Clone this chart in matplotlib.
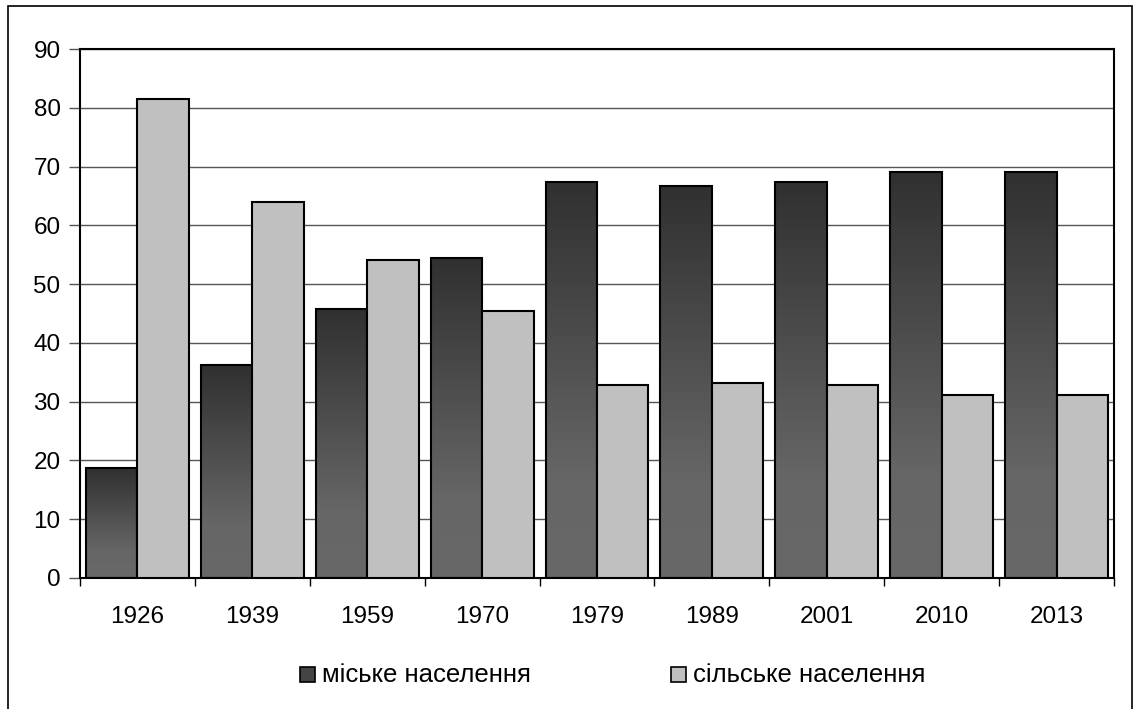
import matplotlib
matplotlib.use("Agg")
import matplotlib.pyplot as plt
import numpy as np
from matplotlib.patches import Rectangle
from matplotlib.colors import LinearSegmentedColormap

years = ["1926", "1939", "1959", "1970", "1979", "1989", "2001", "2010", "2013"]
urban = [18.7, 36.2, 45.8, 54.5, 67.4, 66.7, 67.4, 69.1, 69.1]
rural = [81.5, 64.0, 54.1, 45.4, 32.8, 33.2, 32.8, 31.1, 31.1]
yticks = [0, 10, 20, 30, 40, 50, 60, 70, 80, 90]
labels = ["міське населення", "сільське населення"]

plt.rcParams['font.family'] = ['Liberation Sans', 'DejaVu Sans']

W, H = 1133, 709
fig = plt.figure(figsize=(W / 100, H / 100), dpi=100)
ax = fig.add_axes([80 / W, 1 - 578 / H, (1114 - 80) / W, (578 - 49) / H])

x = np.arange(len(years))
bw = 0.448
rural_color = "#c0c0c0"

cmap = LinearSegmentedColormap.from_list("g", [(0, "#686868"), (0.25, "#666666"), (1.0, "#303030")])
grad = np.linspace(0, 1, 256).reshape(-1, 1)

ub = ax.bar(x - bw / 2, urban, width=bw, color="none", edgecolor="black", linewidth=1.5, zorder=3)
for b in ub:
    bx, by = b.get_x(), b.get_y()
    bwid, bh = b.get_width(), b.get_height()
    im = ax.imshow(grad, cmap=cmap, origin="lower", aspect="auto",
                   extent=[bx, bx + bwid, by, by + bh], zorder=2, vmin=0, vmax=1)
    clip = Rectangle((bx, by), bwid, bh, transform=ax.transData)
    im.set_clip_path(clip)
rb = ax.bar(x + bw / 2, rural, width=bw, color=rural_color, edgecolor="black", linewidth=1.5, zorder=3)

ax.set_xlim(-0.5, len(years) - 0.5)
ax.set_ylim(0, 90)
ax.set_yticks(yticks)
ax.set_yticklabels([str(t) for t in yticks], fontsize=17.5)
ax.yaxis.grid(True, color="#555555", linewidth=1.0, zorder=1)
ax.set_axisbelow(True)

ax.set_xticks(x)
ax.set_xticklabels(years, fontsize=17.5)
ax.tick_params(axis="x", length=0, pad=20)
ax.set_xticks(np.arange(-0.5, len(years)), minor=True)
ax.tick_params(axis="x", which="minor", length=6, width=1, color="black", direction="out")
ax.tick_params(axis="y", length=8, width=1, color="#555555", direction="out", pad=6)

for s in ax.spines.values():
    s.set_linewidth(1.5)
    s.set_color("black")

# legend (manual, in figure pixel coordinates)
leg_colors = ["#444444", rural_color]
leg_x = [300, 671]
for lx, lab, col in zip(leg_x, labels, leg_colors):
    fig.patches.append(Rectangle((lx / W, 1 - 682 / H), 15 / W, 15 / H, transform=fig.transFigure,
                                 facecolor=col, edgecolor="black", linewidth=1.2))
    fig.text((lx + 22) / W, 1 - 675 / H, lab, fontsize=18.5, va="center", ha="left")

# outer frame
fig.patches.append(Rectangle((8 / W, -0.01), (1132 - 8) / W, 1 - 6 / H + 0.01,
                             transform=fig.transFigure, fill=False, edgecolor="black",
                             linewidth=1.2))

fig.savefig("out.png", dpi=100)
